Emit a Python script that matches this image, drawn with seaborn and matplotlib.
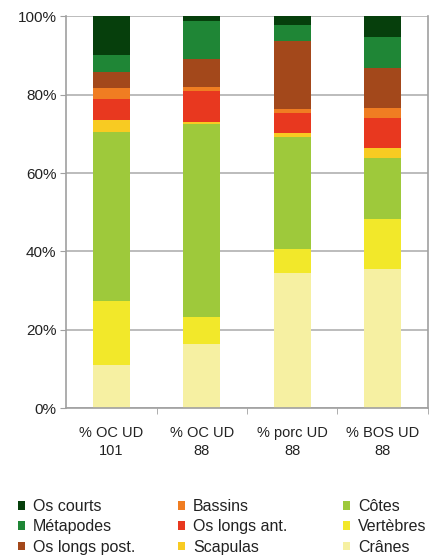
import numpy as np
import pandas as pd
import matplotlib
matplotlib.use('Agg')
import matplotlib.pyplot as plt
import seaborn as sns
from matplotlib.patches import Patch
from matplotlib.ticker import PercentFormatter

sns.set_style('white')
plt.rcParams['font.family'] = ['Liberation Sans', 'DejaVu Sans']

groupes = ['% OC UD\n101', '% OC UD\n88', '% porc UD\n88', '% BOS UD\n88']

# parts, du bas vers le haut de la pile
cranes = [11.0, 16.3, 34.4, 35.6]
vertebres = [16.4, 7.0, 6.1, 12.8]
cotes = [43.1, 49.3, 28.7, 15.5]
scapulas = [3.0, 0.3, 0.9, 2.5]
os_longs_ant = [5.5, 8.0, 5.1, 7.7]
bassins = [2.8, 1.1, 1.1, 2.6]
os_longs_post = [4.0, 7.0, 17.3, 10.2]
metapodes = [4.3, 9.7, 4.1, 7.8]
os_courts = [9.9, 1.3, 2.3, 5.3]

noms = ['Crânes', 'Vertèbres', 'Côtes', 'Scapulas', 'Os longs ant.',
        'Bassins', 'Os longs post.', 'Métapodes', 'Os courts']
series = [cranes, vertebres, cotes, scapulas, os_longs_ant,
          bassins, os_longs_post, metapodes, os_courts]
couleurs = ['#f6f0a2', '#f2e82a', '#9ec93b', '#f8cb22', '#e8381f',
            '#f07d22', '#a3481b', '#1f8636', '#063f0c']

df = pd.DataFrame(dict(zip(noms, series)), index=groupes)
cumul = df.cumsum(axis=1)

fig = plt.figure(figsize=(4.38, 5.6), dpi=100)
ax = fig.add_axes([0.151, 0.271, 0.826, 0.700])

# empilement : on dessine les cumuls du haut vers le bas
for nom, coul in zip(reversed(noms), reversed(couleurs)):
    sns.barplot(x=groupes, y=cumul[nom].values, color=coul, width=0.41,
                saturation=1, linewidth=0, edgecolor='none', ax=ax, zorder=2)

ax.set_ylim(0, 100)
ax.set_xlim(-0.5, 3.5)
ax.yaxis.set_major_formatter(PercentFormatter(decimals=0))
ax.set_yticks(np.arange(0, 101, 20))
ax.grid(axis='y', color='#b0b0b0', linewidth=1.2, zorder=0)
ax.set_axisbelow(True)
for s in ['left', 'right', 'bottom']:
    ax.spines[s].set_color('#a0a0a0')
    ax.spines[s].set_linewidth(1.2)
ax.spines['top'].set_visible(False)
ax.set_xticks([0, 1, 2, 3])
ax.set_xticklabels(groupes, fontsize=10.5, color='#222222', linespacing=1.3)
ax.tick_params(axis='x', length=0, pad=13)
ax.tick_params(axis='y', left=True, length=4, color='#a0a0a0',
               labelsize=11, labelcolor='#222222', pad=3)
# petits traits entre les groupes
ax.set_xticks([0.5, 1.5, 2.5, 3.5], minor=True)
ax.tick_params(axis='x', which='minor', bottom=True, length=4, color='#a0a0a0')
ax.set_xlabel('')
ax.set_ylabel('')

# légende en trois colonnes placées à la main
colonnes = [['Os courts', 'Métapodes', 'Os longs post.'],
            ['Bassins', 'Os longs ant.', 'Scapulas'],
            ['Côtes', 'Vertèbres', 'Crânes']]
x_col = [18, 178, 343]
for col, x0 in zip(colonnes, x_col):
    handles = [Patch(facecolor=couleurs[noms.index(n)], edgecolor='none', label=n)
               for n in col]
    leg = fig.legend(handles=handles, loc='upper left',
                     bbox_to_anchor=(x0 / 438, 1 - 499 / 560),
                     frameon=False, fontsize=11.5, handlelength=0.45,
                     handleheight=0.45, handletextpad=0.5, labelspacing=0.33,
                     borderaxespad=0, borderpad=0)
    for t in leg.get_texts():
        t.set_color('#222222')

fig.savefig('out.png', dpi=100)
